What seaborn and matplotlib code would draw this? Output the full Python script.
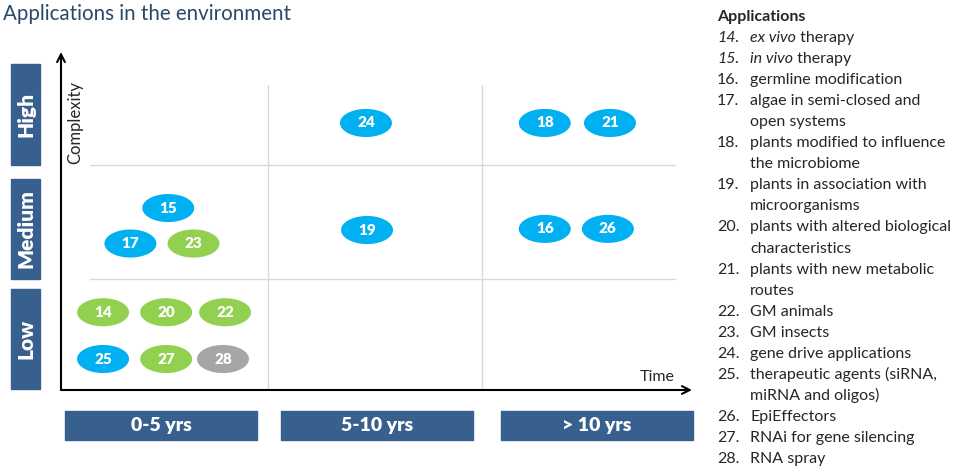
import numpy as np
import pandas as pd
import matplotlib
matplotlib.use('Agg')
import matplotlib.pyplot as plt
import seaborn as sns
from matplotlib.path import Path
from matplotlib.patches import Rectangle

# applications placed on the time / complexity grid
app_ids = [14, 20, 22, 25, 27, 28, 15, 17, 23, 19, 16, 26, 24, 18, 21]
time_pos = [0.20, 0.50, 0.78, 0.20, 0.50, 0.77, 0.51, 0.33, 0.63, 1.455, 2.30, 2.60, 1.45, 2.30, 2.61]
complexity_pos = [0.69, 0.69, 0.69, 0.275, 0.275, 0.275, 1.615, 1.30, 1.30, 1.42, 1.43, 1.43, 2.37, 2.37, 2.37]
groups = ['green', 'green', 'green', 'blue', 'green', 'grey', 'blue', 'blue',
          'green', 'blue', 'blue', 'blue', 'blue', 'blue', 'blue']

time_labels = ['0-5 yrs', '5-10 yrs', '> 10 yrs']
complexity_labels = ['Low', 'Medium', 'High']
cell_edges = [0.985, 2.0]

legend_items = [
    ('14.', [('ex vivo', 'italic'), (' therapy', 'normal')], None),
    ('15.', [('in vivo', 'italic'), (' therapy', 'normal')], None),
    ('16.', [('germline modification', 'normal')], None),
    ('17.', [('algae in semi-closed and', 'normal')], 'open systems'),
    ('18.', [('plants modified to influence', 'normal')], 'the microbiome'),
    ('19.', [('plants in association with', 'normal')], 'microorganisms'),
    ('20.', [('plants with altered biological', 'normal')], 'characteristics'),
    ('21.', [('plants with new metabolic', 'normal')], 'routes'),
    ('22.', [('GM animals', 'normal')], None),
    ('23.', [('GM insects', 'normal')], None),
    ('24.', [('gene drive applications', 'normal')], None),
    ('25.', [('therapeutic agents (siRNA,', 'normal')], 'miRNA and oligos)'),
    ('26.', [('EpiEffectors', 'normal')], None),
    ('27.', [('RNAi for gene silencing', 'normal')], None),
    ('28.', [('RNA spray', 'normal')], None),
]

palette = {'blue': '#00B0F0', 'green': '#92D050', 'grey': '#A6A6A6'}
box_color = '#38608F'
title_color = '#2A4868'

df = pd.DataFrame({'id': app_ids, 'time': time_pos,
                   'complexity': complexity_pos, 'group': groups})

sns.set_style('white')
plt.rcParams['font.family'] = ['Lato', 'DejaVu Sans']

W, H = 959, 470
fig = plt.figure(figsize=(W / 100, H / 100), dpi=100)

# main grid axes (pixel box 61..692 x 52..390)
ax = fig.add_axes([61 / W, 1 - 390 / H, (692 - 61) / W, (390 - 52) / H])
ax.set_xlim(0, 3)
ax.set_ylim(0, 3)
ax.axis('off')

for e in cell_edges:
    ax.plot([0.138, 2.92], [e, e], color='#D9D9D9', lw=1, zorder=1)
    ax.plot([e, e], [0.02, 2.71], color='#D9D9D9', lw=1, zorder=1)

# axes arrows
arrow = dict(arrowstyle='->', lw=1.5, color='black', mutation_scale=14,
             shrinkA=0, shrinkB=0)
ax.annotate('', xy=(1, 0), xytext=(0, 0), xycoords='axes fraction',
            textcoords='axes fraction', arrowprops=arrow)
ax.annotate('', xy=(0, 1), xytext=(0, 0), xycoords='axes fraction',
            textcoords='axes fraction', arrowprops=arrow)
ax.text(0.945, 0.038, 'Time', transform=ax.transAxes, ha='center', va='center',
        fontsize=11.5)
ax.text(0.022, 0.79, 'Complexity', transform=ax.transAxes, ha='center',
        va='center', rotation=90, fontsize=12)

# ellipse marker
t = np.linspace(0, 2 * np.pi, 80)
ellipse = Path(np.column_stack([np.cos(t), 0.54 * np.sin(t)]))

sns.scatterplot(data=df, x='time', y='complexity', hue='group', palette=palette,
                marker=ellipse, s=1400, linewidth=0, legend=False, ax=ax,
                zorder=3, clip_on=False)
for _, r in df.iterrows():
    ax.text(r['time'], r['complexity'], str(r['id']), ha='center', va='center',
            color='white', fontsize=11, fontweight='heavy', zorder=4)

# category boxes
canvas = fig.add_axes([0, 0, 1, 1], zorder=-1)
canvas.set_xlim(0, W)
canvas.set_ylim(H, 0)
canvas.axis('off')

col_boxes = [(65, 257), (281, 473), (501, 693)]
for (x0, x1), lab in zip(col_boxes, time_labels):
    canvas.add_patch(Rectangle((x0, 411), x1 - x0, 29, color=box_color))
    canvas.text((x0 + x1) / 2, 426, lab, ha='center', va='center',
                color='white', fontsize=14, fontweight='heavy')

row_boxes = [(289, 389), (179, 279), (64, 165)]
for (y0, y1), lab in zip(row_boxes, complexity_labels):
    canvas.add_patch(Rectangle((11, y0), 29, y1 - y0, color=box_color))
    canvas.text(26, (y0 + y1) / 2, lab, ha='center', va='center', rotation=90,
                color='white', fontsize=15, fontweight='heavy')

canvas.text(3, 14, 'Applications in the environment', ha='left', va='center',
            color=title_color, fontsize=14.8)

# legend list
fs = 11.5
canvas.text(717, 17, 'Applications', ha='left', va='center', fontsize=fs,
            fontweight='bold')
y = 38
step = 21.05
for num, parts, cont in legend_items:
    num_style = 'italic' if parts[0][1] == 'italic' else 'normal'
    canvas.text(717, y, num, ha='left', va='center', fontsize=fs, style=num_style)
    prev = None
    for txt, st in parts:
        if prev is None:
            prev = canvas.text(750, y, txt, ha='left', va='center', fontsize=fs,
                               style=st)
        else:
            prev = canvas.annotate(txt, xy=(1, 0.5), xycoords=prev, ha='left',
                                   va='center', fontsize=fs, style=st)
    y += step
    if cont:
        canvas.text(750, y, cont, ha='left', va='center', fontsize=fs)
        y += step

fig.savefig('out.png', dpi=100)
